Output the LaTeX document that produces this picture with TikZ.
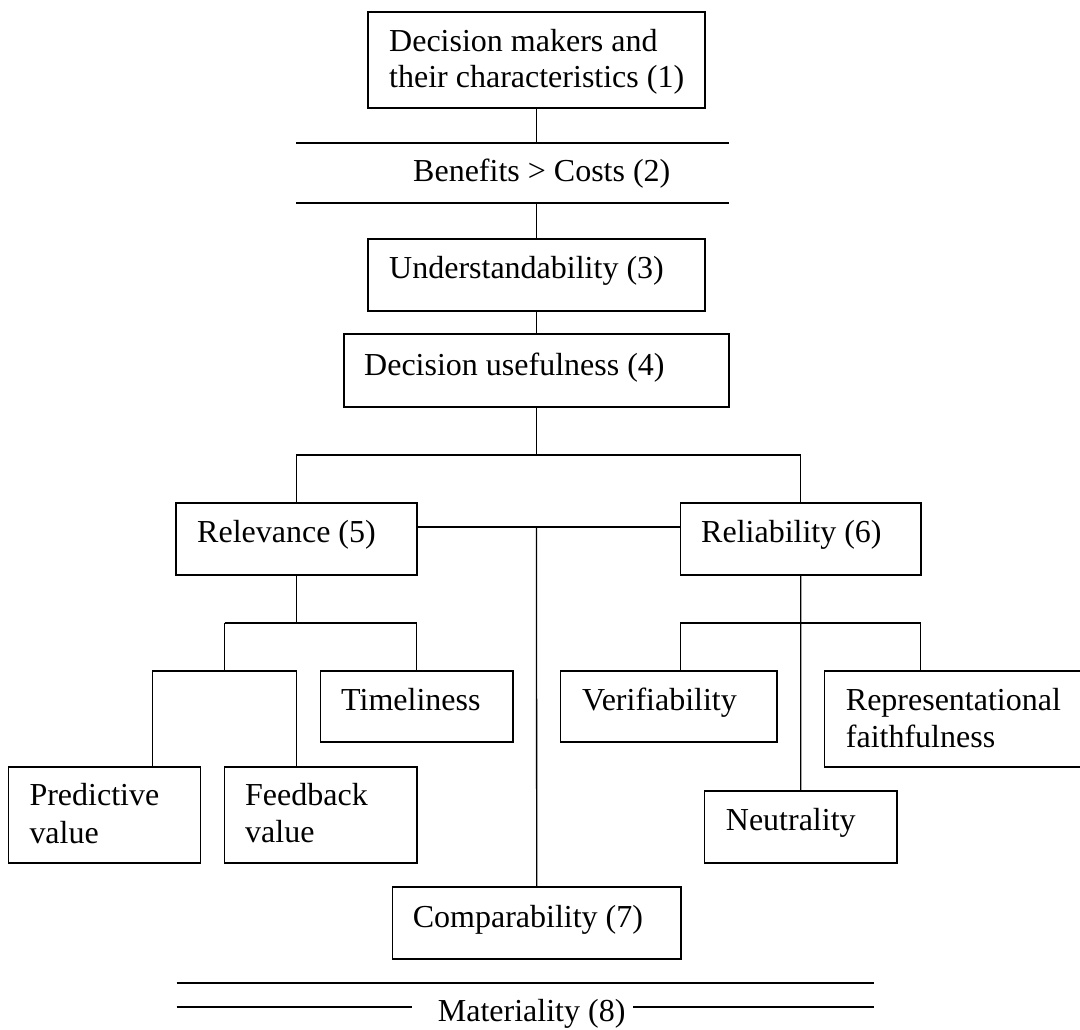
\documentclass[tikz,border=0pt]{standalone}
\usepackage{fontspec}
\setmainfont{Liberation Serif}
\begin{document}
\begin{tikzpicture}[x=1pt,y=-1pt,
  box/.style={draw, line width=1.3pt, rectangle, inner sep=0pt, outer sep=0pt, anchor=north west},
  txt/.style={anchor=base west, inner sep=0pt, font=\fontsize{32}{36}\selectfont},
  conn/.style={line width=1.3pt}]
\useasboundingbox (0,0) rectangle (1080,1030);
% boxes
\node[box, minimum width=337pt, minimum height=96pt] (n1) at (368,12) {};
\node[box, minimum width=337pt, minimum height=72pt] (n3) at (368,239) {};
\node[box, minimum width=385pt, minimum height=73pt] (n4) at (344,334) {};
\node[box, minimum width=241pt, minimum height=72pt] (n5) at (176,503) {};
\node[box, minimum width=240.5pt, minimum height=72pt] (n6) at (680.5,503) {};
\node[box, minimum width=192.4pt, minimum height=71pt] (tim) at (320.6,671) {};
\node[box, minimum width=216.3pt, minimum height=71pt] (ver) at (560.7,671) {};
\node[box, minimum width=262pt, minimum height=96pt] (rep) at (824.3,671) {};
\node[box, minimum width=192.4pt, minimum height=96pt] (pred) at (8.3,767) {};
\node[box, minimum width=192.7pt, minimum height=96pt] (feed) at (224.3,767) {};
\node[box, minimum width=192.7pt, minimum height=72pt] (neu) at (704.3,791) {};
\node[box, minimum width=288.6pt, minimum height=72pt] (n7) at (392.4,887) {};
% texts
\node[txt] (t1a) at (389,52) {Decision makers and};
\node[txt] (t1b) at (389,88) {their characteristics (1)};
\node[txt] (t2) at (413,182) {Benefits > Costs (2)};
\node[txt] (t3) at (389,278) {Understandability (3)};
\node[txt] (t4) at (364,375) {Decision usefulness (4)};
\node[txt] (t5) at (197,542) {Relevance (5)};
\node[txt] (t6) at (701,542) {Reliability (6)};
\node[txt] (ttim) at (341,710) {Timeliness};
\node[txt] (tver) at (582,710) {Verifiability};
\node[txt] (trepa) at (845.7,710) {Representational};
\node[txt] (trepb) at (845.7,747) {faithfulness};
\node[txt] (tpreda) at (29.3,805) {Predictive};
\node[txt] (tpredb) at (29.3,843) {value};
\node[txt] (tfeeda) at (245,805) {Feedback};
\node[txt] (tfeedb) at (245,842) {value};
\node[txt] (tneu) at (725.7,830) {Neutrality};
\node[txt] (t7) at (412.6,927) {Comparability (7)};
\node[txt] (t8) at (437.7,1021) {Materiality (8)};
% coordinates
\coordinate (b1l) at (296,143); \coordinate (b1r) at (729,143);
\coordinate (b2l) at (296,203); \coordinate (b2r) at (729,203);
\coordinate (j1) at (536.5,455);
\coordinate (j2) at (536.5,527);
\coordinate (ja) at (224.5,623);
\coordinate (jb) at (152.7,671);
\coordinate (jc) at (680.5,623);
\coordinate (jd) at (920.7,623);
\coordinate (m1l) at (176.5,983); \coordinate (m1r) at (874,983);
\coordinate (m2l) at (176.5,1007); \coordinate (m2a) at (412,1007);
\coordinate (m2b) at (633,1007); \coordinate (m2r) at (874,1007);
% lines
\draw[conn] (b1l) -- (b1r);
\draw[conn] (b2l) -- (b2r);
\draw[conn] (n1.south) -- (n1.south |- b1l);
\draw[conn] (n3.north |- b2l) -- (n3.north);
\draw[conn] (n3.south) -- (n4.north);
\draw[conn] (n4.south) -- (j1);
\draw[conn] (n5.north) |- (j1) -| (n6.north);
\draw[conn] (n5.east |- j2) -- (n6.west |- j2);
\draw[conn] (j2) -- (n7.north);
\draw[conn] (n5.south) -- (n5.south |- ja);
\draw[conn] (ja) -| (tim.north);
\draw[conn] (ja) -- (ja |- jb);
\draw[conn] (pred.north -| jb) -- (jb) -- (jb -| n5.south) -- (feed.north -| n5.south);
\draw[conn] (n6.south) -- (neu.north);
\draw[conn] (ver.north -| jc) -- (jc) -- (jd) -- (rep.north -| jd);
\draw[conn] (m1l) -- (m1r);
\draw[conn] (m2l) -- (m2a);
\draw[conn] (m2b) -- (m2r);
\end{tikzpicture}
\end{document}
